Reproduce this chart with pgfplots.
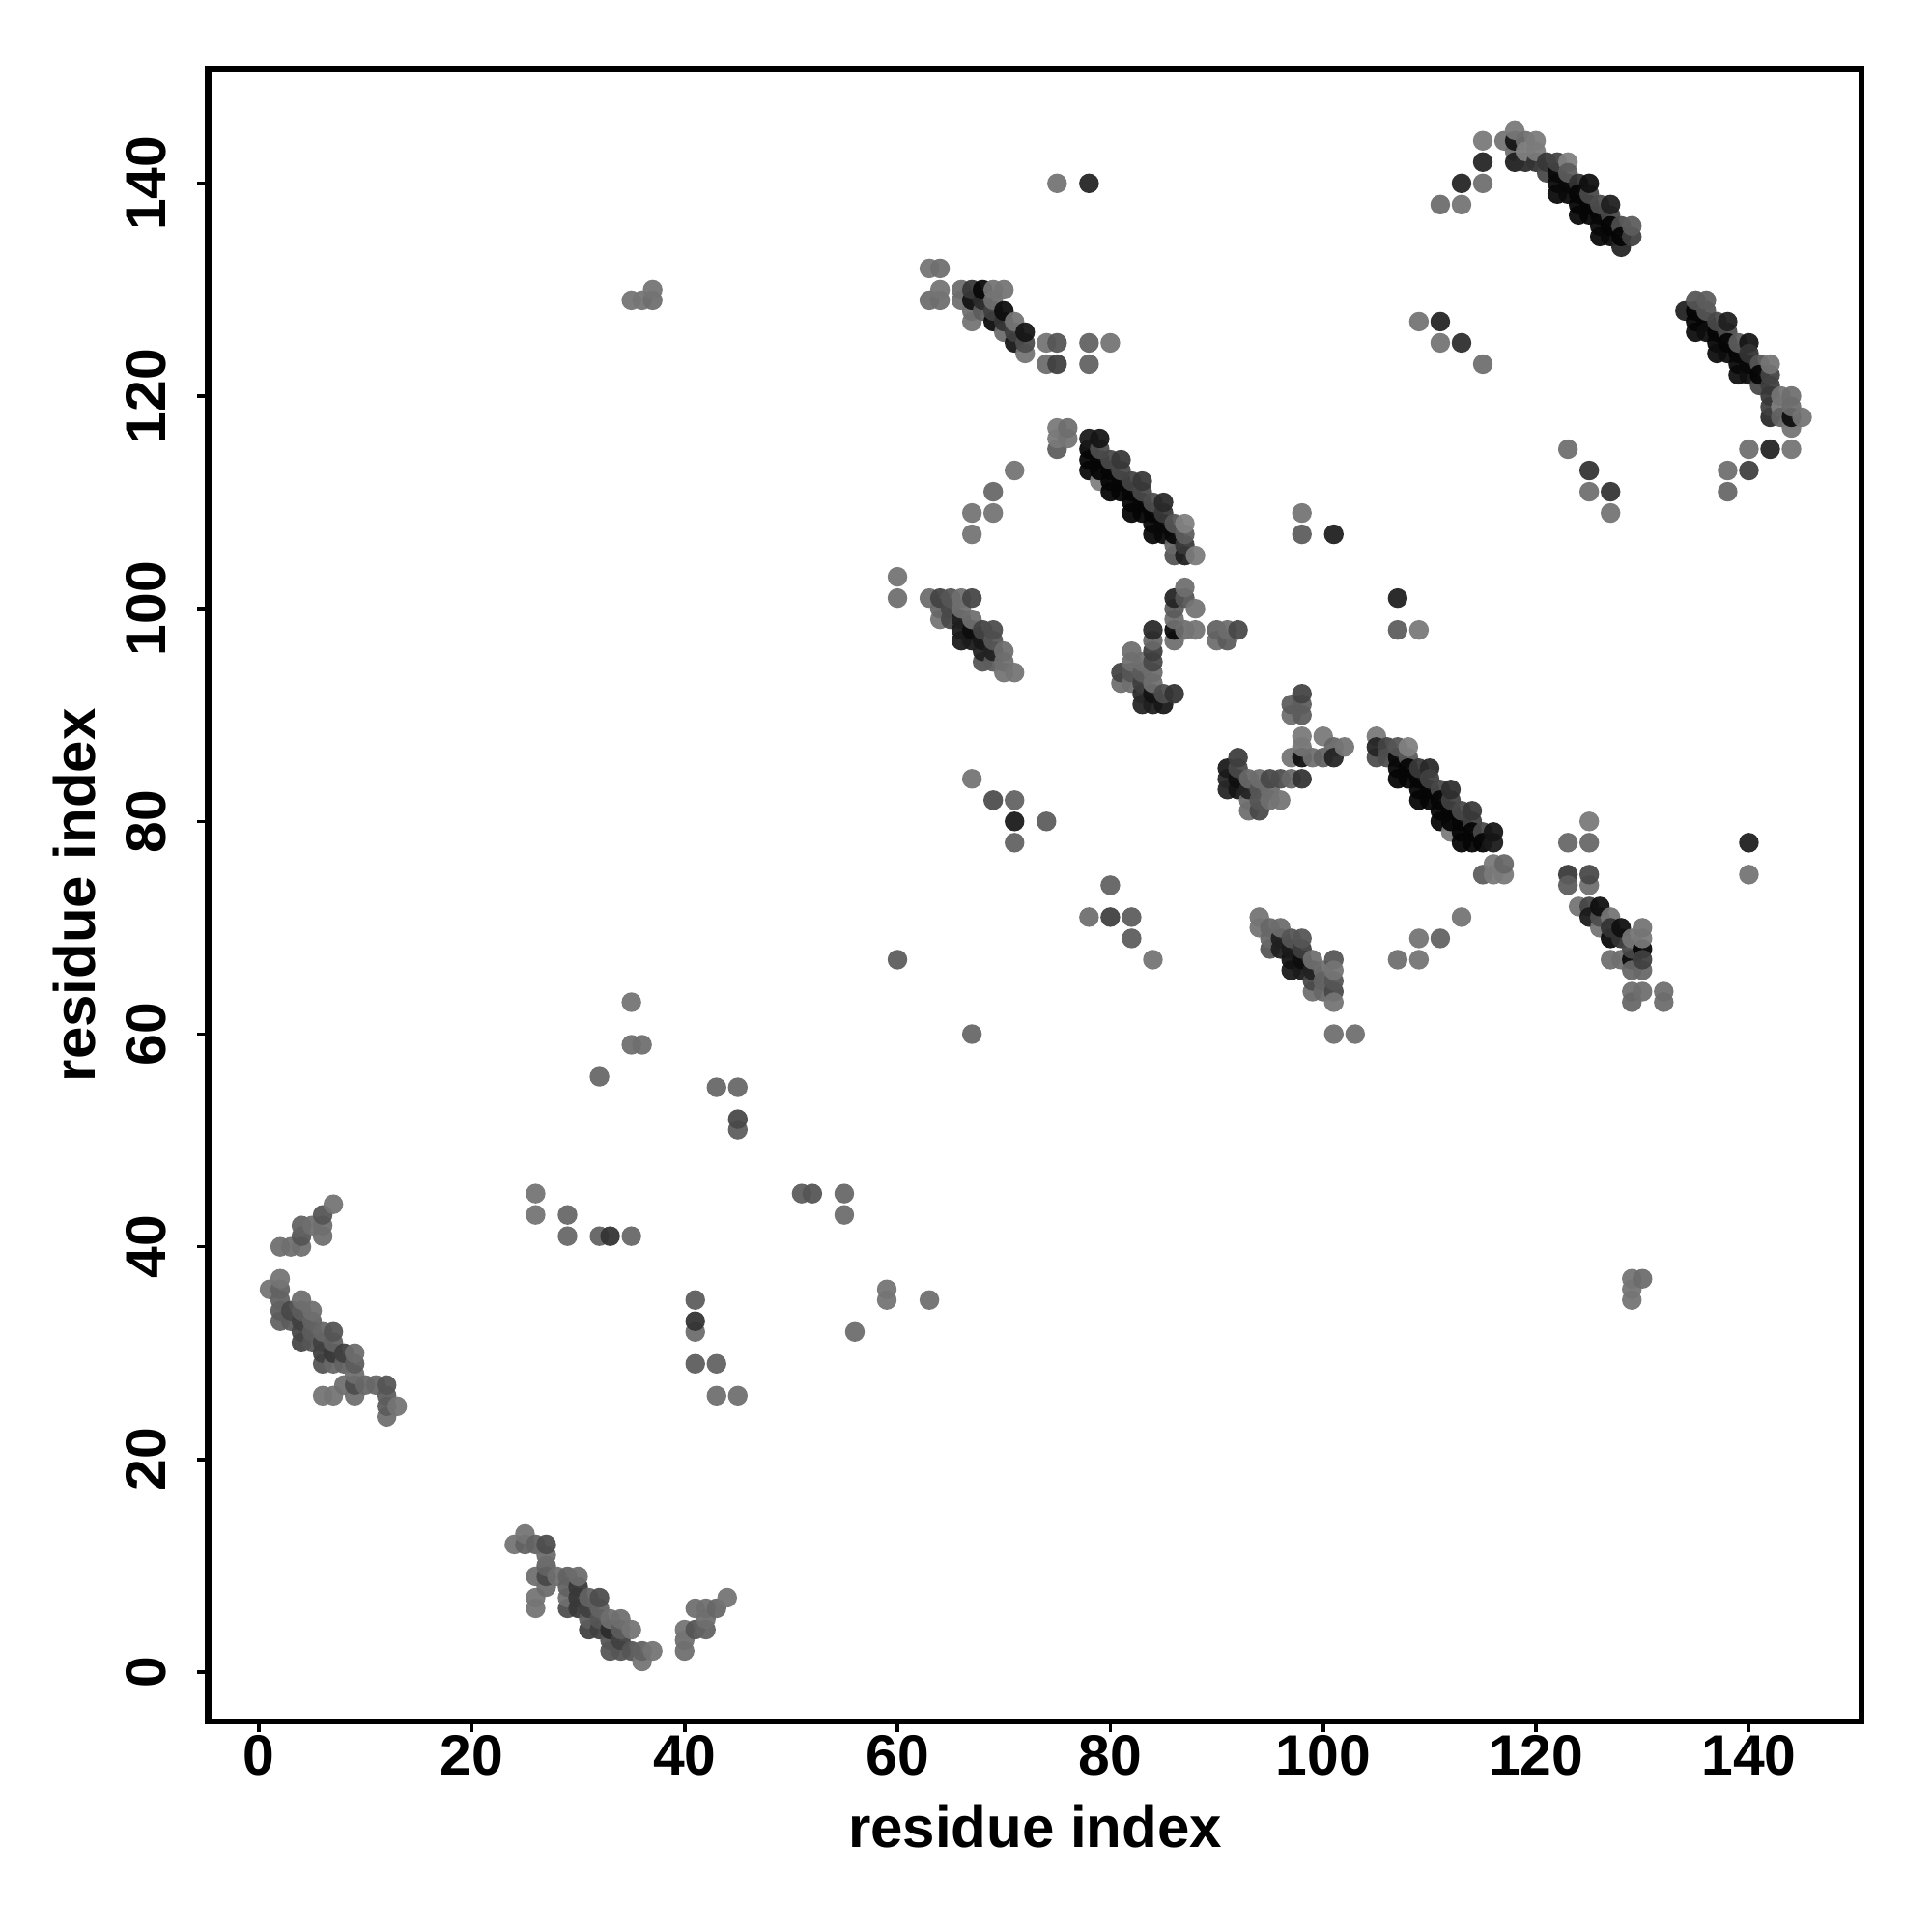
\documentclass[border=0pt]{standalone}
\usepackage{pgfplots}
\usepackage{pgfplotstable}
\usepackage{fontspec}
\setmainfont{Liberation Sans}
\pgfplotsset{compat=1.18}
\pgfplotstableread[row sep=\\]{x y g\\
7 44 .45\\ 6 43 .33\\ 4 42 .38\\ 5 42 .43\\ 6 42 .43\\ 6 41 .43\\ 4 41 .33\\ 2 40 .43\\ 3 40 .43\\ 4 40 .43\\
2 37 .45\\ 1 36 .45\\ 2 36 .38\\ 2 35 .38\\ 4 35 .43\\ 2 34 .36\\ 3 34 .28\\ 4 34 .36\\ 5 34 .43\\ 2 33 .38\\ 3 33 .36\\ 4 33 .25\\ 5 33 .38\\
4 32 .27\\ 5 32 .36\\ 6 32 .4\\ 7 32 .33\\ 4 31 .27\\ 5 31 .33\\ 6 31 .25\\ 7 31 .38\\ 6 30 .25\\ 7 30 .22\\ 8 30 .25\\ 9 30 .42\\ 6 29 .33\\ 7 29 .4\\ 8 29 .38\\ 9 29 .36\\
9 28 .43\\ 8 27 .43\\ 9 27 .3\\ 10 27 .4\\ 11 27 .4\\ 12 27 .33\\ 6 26 .45\\ 7 26 .45\\ 9 26 .43\\ 12 26 .36\\ 12 25 .36\\ 13 25 .45\\ 12 24 .43\\
25 13 .45\\ 24 12 .45\\ 25 12 .38\\ 26 12 .38\\ 27 12 .3\\ 27 11 .42\\ 27 10 .38\\ 26 9 .43\\ 27 9 .28\\ 28 9 .43\\ 29 9 .38\\ 30 9 .42\\ 27 8 .42\\ 29 8 .38\\ 30 8 .22\\ 26 7 .45\\ 29 7 .43\\ 30 7 .22\\ 31 7 .38\\ 32 7 .3\\ 26 6 .45\\ 29 6 .3\\ 30 6 .22\\ 31 6 .25\\ 32 6 .38\\ 31 5 .36\\ 32 5 .33\\ 33 5 .43\\ 34 5 .43\\ 31 4 .25\\ 32 4 .25\\ 33 4 .17\\ 34 4 .36\\ 35 4 .45\\ 33 3 .33\\ 34 3 .25\\ 33 2 .33\\ 34 2 .33\\ 35 2 .33\\ 36 2 .38\\ 37 2 .45\\ 36 1 .45\\
44 7 .45\\ 41 6 .43\\ 42 6 .43\\ 43 6 .4\\ 42 5 .43\\ 40 4 .45\\ 41 4 .33\\ 42 4 .38\\ 40 3 .43\\ 40 2 .43\\
98 92 .26\\ 97 91 .36\\ 98 91 .36\\ 97 90 .43\\ 98 90 .36\\ 98 88 .47\\ 100 88 .47\\ 98 87 .45\\ 101 87 .4\\ 102 87 .45\\ 97 86 .45\\ 98 86 .06\\ 99 86 .43\\ 100 86 .38\\ 101 86 .14\\
92 86 .24\\ 91 85 .1\\ 92 85 .28\\ 91 84 .15\\ 92 84 .06\\ 93 84 .4\\ 94 84 .42\\ 95 84 .28\\ 96 84 .3\\ 97 84 .4\\ 98 84 .2\\ 91 83 .14\\ 92 83 .08\\ 93 83 .14\\ 94 83 .33\\ 95 83 .42\\ 93 82 .43\\ 94 82 .33\\ 95 82 .43\\ 96 82 .45\\ 93 81 .43\\ 94 81 .28\\
105 88 .47\\ 105 87 .14\\ 106 87 .26\\ 107 87 .33\\ 108 87 .5\\ 105 86 .3\\ 106 86 .3\\ 107 86 .04\\ 108 86 .35\\ 107 85 .02\\ 108 85 .02\\ 109 85 .22\\ 110 85 .16\\ 107 84 .02\\ 108 84 .02\\ 109 84 .02\\ 110 84 .25\\ 109 83 .02\\ 110 83 .02\\ 111 83 .28\\ 112 83 .18\\ 109 82 .02\\ 110 82 .02\\ 111 82 .02\\ 112 82 .25\\ 111 81 .02\\ 112 81 .02\\ 113 81 .28\\ 114 81 .22\\ 111 80 .02\\ 112 80 .02\\ 113 80 .02\\ 114 80 .25\\ 112 79 .48\\ 113 79 .02\\ 114 79 .02\\ 115 79 .28\\ 116 79 .08\\ 113 78 .02\\ 114 78 .02\\ 115 78 .02\\ 116 78 .1\\
115 75 .36\\ 116 75 .47\\ 117 75 .47\\ 116 76 .47\\ 117 76 .4\\ 125 80 .47\\ 123 78 .4\\ 125 78 .4\\ 123 75 .22\\ 125 75 .28\\ 123 74 .36\\ 125 74 .43\\
75 117 .47\\ 76 117 .43\\ 75 116 .47\\ 76 116 .45\\ 75 115 .36\\ 78 116 .1\\ 79 116 .08\\ 78 115 .02\\ 79 115 .3\\ 78 114 .02\\ 79 114 .02\\ 80 114 .28\\ 81 114 .22\\ 78 113 .03\\ 79 113 .02\\ 80 113 .02\\ 81 113 .28\\ 79 112 .5\\ 80 112 .02\\ 81 112 .02\\ 82 112 .26\\ 83 112 .22\\ 80 111 .02\\ 81 111 .02\\ 82 111 .02\\ 83 111 .28\\ 82 110 .02\\ 83 110 .02\\ 84 110 .3\\ 85 110 .16\\ 82 109 .02\\ 83 109 .02\\ 84 109 .02\\ 85 109 .22\\ 84 108 .03\\ 85 108 .03\\ 86 108 .33\\ 87 108 .5\\ 84 107 .03\\ 85 107 .03\\ 86 107 .03\\ 87 107 .36\\ 86 106 .4\\ 87 106 .22\\ 86 105 .33\\ 87 105 .12\\ 88 105 .48\\
63 132 .45\\ 64 132 .43\\ 64 130 .45\\ 63 129 .42\\ 64 129 .43\\ 66 130 .42\\ 67 130 .22\\ 68 130 .03\\ 69 130 .45\\ 70 130 .45\\ 66 129 .43\\ 67 129 .07\\ 68 129 .17\\ 69 129 .43\\ 67 128 .43\\ 68 128 .36\\ 69 128 .25\\ 70 128 .05\\ 67 127 .45\\ 69 127 .04\\ 70 127 .2\\ 71 127 .45\\ 70 126 .42\\ 71 126 .25\\ 72 126 .08\\ 71 125 .08\\ 72 125 .3\\ 72 124 .45\\ 74 125 .45\\ 75 125 .33\\ 74 123 .42\\ 75 123 .25\\ 78 125 .38\\ 80 125 .45\\ 78 123 .38\\
115 144 .47\\ 115 142 .14\\ 113 140 .14\\ 115 140 .43\\ 113 138 .45\\ 111 138 .42\\ 117 144 .45\\ 118 145 .47\\ 118 144 .08\\ 119 144 .43\\ 120 144 .48\\ 118 143 .43\\ 119 143 .5\\ 120 143 .48\\ 118 142 .12\\ 119 142 .17\\ 120 142 .2\\ 121 142 .22\\ 122 142 .26\\ 123 142 .5\\ 121 141 .28\\ 122 141 .03\\ 123 141 .36\\ 122 140 .03\\ 123 140 .03\\ 124 140 .2\\ 125 140 .06\\ 122 139 .04\\ 123 139 .04\\ 124 139 .02\\ 125 139 .28\\ 124 138 .02\\ 125 138 .02\\ 126 138 .3\\ 127 138 .12\\ 124 137 .03\\ 125 137 .02\\ 126 137 .02\\ 127 137 .28\\ 126 136 .03\\ 127 136 .02\\ 128 136 .3\\ 129 136 .36\\ 126 135 .03\\ 127 135 .03\\ 128 135 .02\\ 129 135 .25\\ 128 134 .14\\
134 128 .13\\ 135 129 .33\\ 136 129 .36\\ 135 128 .02\\ 136 128 .33\\ 135 127 .02\\ 136 127 .02\\ 137 127 .28\\ 138 127 .12\\ 135 126 .05\\ 136 126 .05\\ 137 126 .02\\ 138 126 .3\\ 137 125 .02\\ 138 125 .02\\ 139 125 .36\\ 140 125 .08\\ 137 124 .05\\ 138 124 .05\\ 139 124 .02\\ 140 124 .2\\ 139 123 .03\\ 140 123 .03\\ 141 123 .33\\ 142 123 .45\\ 139 122 .06\\ 140 122 .06\\ 141 122 .02\\ 142 122 .26\\ 141 121 .28\\ 142 121 .24\\ 142 120 .22\\ 143 120 .45\\ 144 120 .43\\ 142 119 .25\\ 143 119 .5\\ 144 119 .42\\ 142 118 .16\\ 143 118 .38\\ 144 118 .06\\ 145 118 .45\\ 144 117 .45\\
140 115 .43\\ 142 115 .14\\ 144 115 .45\\ 138 113 .43\\ 140 113 .25\\ 138 111 .4\\
63 101 .42\\ 64 101 .26\\ 65 101 .33\\ 66 101 .43\\ 67 101 .27\\ 64 100 .4\\ 65 100 .28\\ 66 100 .43\\ 64 99 .45\\ 65 99 .28\\ 66 99 .12\\ 67 99 .43\\ 66 98 .1\\ 67 98 .05\\ 68 98 .26\\ 69 98 .3\\ 66 97 .1\\ 67 97 .1\\ 68 97 .09\\ 69 97 .34\\ 68 96 .13\\ 69 96 .13\\ 70 96 .43\\ 68 95 .33\\ 69 95 .36\\ 70 95 .43\\ 70 94 .45\\ 71 94 .45\\ 60 103 .45\\ 60 101 .43\\
87 102 .43\\ 86 101 .14\\ 87 101 .33\\ 88 100 .45\\ 86 100 .36\\ 86 99 .43\\ 86 98 .03\\ 87 98 .43\\ 88 98 .45\\ 86 97 .43\\ 90 98 .38\\ 91 98 .42\\ 92 98 .28\\ 90 97 .43\\ 91 97 .36\\ 84 98 .16\\ 84 97 .4\\ 84 96 .24\\ 84 95 .28\\ 82 96 .43\\ 82 95 .43\\ 83 95 .43\\ 84 94 .42\\ 81 94 .26\\ 82 94 .33\\ 83 94 .36\\ 81 93 .43\\ 82 93 .43\\ 83 93 .24\\ 84 93 .43\\ 83 92 .16\\ 84 92 .07\\ 85 92 .3\\ 86 92 .2\\ 83 91 .14\\ 84 91 .12\\ 85 91 .09\\
94 71 .45\\ 94 70 .45\\ 95 70 .4\\ 96 70 .42\\ 95 69 .4\\ 96 69 .12\\ 97 69 .33\\ 98 69 .33\\ 95 68 .33\\ 96 68 .12\\ 97 68 .1\\ 98 68 .24\\ 97 67 .07\\ 98 67 .05\\ 99 67 .43\\ 101 67 .33\\ 97 66 .1\\ 98 66 .1\\ 99 66 .13\\ 100 66 .43\\ 101 66 .45\\ 99 65 .28\\ 100 65 .38\\ 101 65 .33\\ 99 64 .43\\ 100 64 .4\\ 101 64 .28\\ 101 63 .45\\ 107 67 .43\\ 101 60 .43\\ 103 60 .43\\ 109 67 .45\\ 109 69 .45\\ 111 69 .38\\ 113 71 .45\\
124 72 .45\\ 125 72 .27\\ 126 72 .06\\ 125 71 .1\\ 126 71 .3\\ 127 71 .45\\ 126 70 .45\\ 127 70 .2\\ 128 70 .06\\ 130 70 .45\\ 127 69 .03\\ 128 69 .2\\ 129 69 .45\\ 130 69 .47\\ 127 67 .43\\ 128 67 .43\\ 129 68 .28\\ 130 68 .02\\ 129 67 .04\\ 130 67 .25\\ 129 66 .4\\ 130 66 .4\\ 129 64 .43\\ 130 64 .43\\ 132 64 .43\\ 129 63 .4\\ 132 63 .42\\
75 140 .45\\ 78 140 .14\\ 35 129 .45\\ 36 129 .45\\ 37 129 .43\\ 37 130 .45\\ 109 127 .45\\ 111 127 .14\\ 111 125 .45\\ 113 125 .18\\ 115 123 .43\\ 123 115 .43\\ 125 113 .2\\ 125 111 .43\\ 127 111 .2\\ 127 109 .45\\ 71 113 .45\\ 69 111 .4\\ 67 109 .45\\ 69 109 .45\\ 67 107 .45\\ 98 109 .45\\ 98 107 .36\\ 101 107 .12\\ 107 101 .12\\ 107 98 .36\\ 109 98 .47\\ 67 84 .45\\ 69 82 .3\\ 71 82 .38\\ 71 80 .1\\ 74 80 .36\\ 71 78 .38\\ 140 78 .12\\ 140 75 .45\\ 80 74 .38\\ 78 71 .43\\ 80 71 .25\\ 82 71 .36\\ 82 69 .36\\ 84 67 .45\\ 60 67 .36\\ 67 60 .4\\
35 63 .45\\ 35 59 .43\\ 36 59 .43\\ 32 56 .4\\ 43 55 .4\\ 45 55 .4\\ 45 52 .28\\ 45 51 .36\\ 51 45 .36\\ 52 45 .33\\ 55 45 .4\\ 55 43 .42\\ 26 45 .45\\ 26 43 .45\\ 29 43 .4\\ 29 41 .4\\ 32 41 .38\\ 33 41 .2\\ 35 41 .4\\ 41 35 .36\\ 41 33 .2\\ 41 32 .42\\ 41 29 .36\\ 43 29 .38\\ 43 26 .43\\ 45 26 .43\\ 59 36 .45\\ 59 35 .45\\ 63 35 .43\\ 56 32 .42\\ 129 37 .45\\ 130 37 .42\\ 129 36 .45\\ 129 35 .45\\
}\rawdata
\pgfplotstablecreatecol[create col/expr={\thisrow{x}*1000+\thisrow{y}}]{k}{\rawdata}
\pgfplotstablesort[sort key=k,sort cmp=float <]{\data}{\rawdata}
\begin{document}
\begin{tikzpicture}
\useasboundingbox (-53.9pt,-54.5pt) rectangle (446.1pt,445.5pt);
\begin{axis}[
  at={(0pt,0pt)},anchor=south west,
  scale only axis,width=427.9pt,height=427.6pt,
  xmin=-4.757,xmax=150.6,ymin=-4.63,ymax=150.74,
  xtick={0,20,...,140},ytick={0,20,...,140},
  axis line style={line width=1.6pt},
  tick align=outside,tick pos=left,major tick length=2.8pt,
  tick style={line width=0.9pt,black},
  /pgf/number format/assume math mode=true,
  every tick label/.append style={font=\fontsize{14.7}{17}\selectfont\bfseries},
  xticklabel style={yshift=2.6pt},
  yticklabel style={rotate=90,anchor=south,yshift=4.6pt},
  xlabel={residue index},ylabel={residue index},
  xlabel style={font=\fontsize{15}{17}\selectfont\bfseries,at={(axis description cs:0.5,0)},anchor=north,yshift=-18.2pt},
  ylabel style={font=\fontsize{15}{17}\selectfont\bfseries,at={(axis description cs:0,0.5)},anchor=south,yshift=25.5pt},
  colormap={g}{gray(0cm)=(0);gray(1cm)=(1)},
  point meta min=0,point meta max=1,
  clip=true]
\addplot[scatter,only marks,mark=*,mark size=2.55pt,
  mark options={line width=0pt},
  scatter/use mapped color={draw=mapped color,draw opacity=0,fill=mapped color,fill opacity=0.94},
  point meta=explicit] table[x=x,y=y,meta=g]{\data};
\end{axis}
\end{tikzpicture}
\end{document}
